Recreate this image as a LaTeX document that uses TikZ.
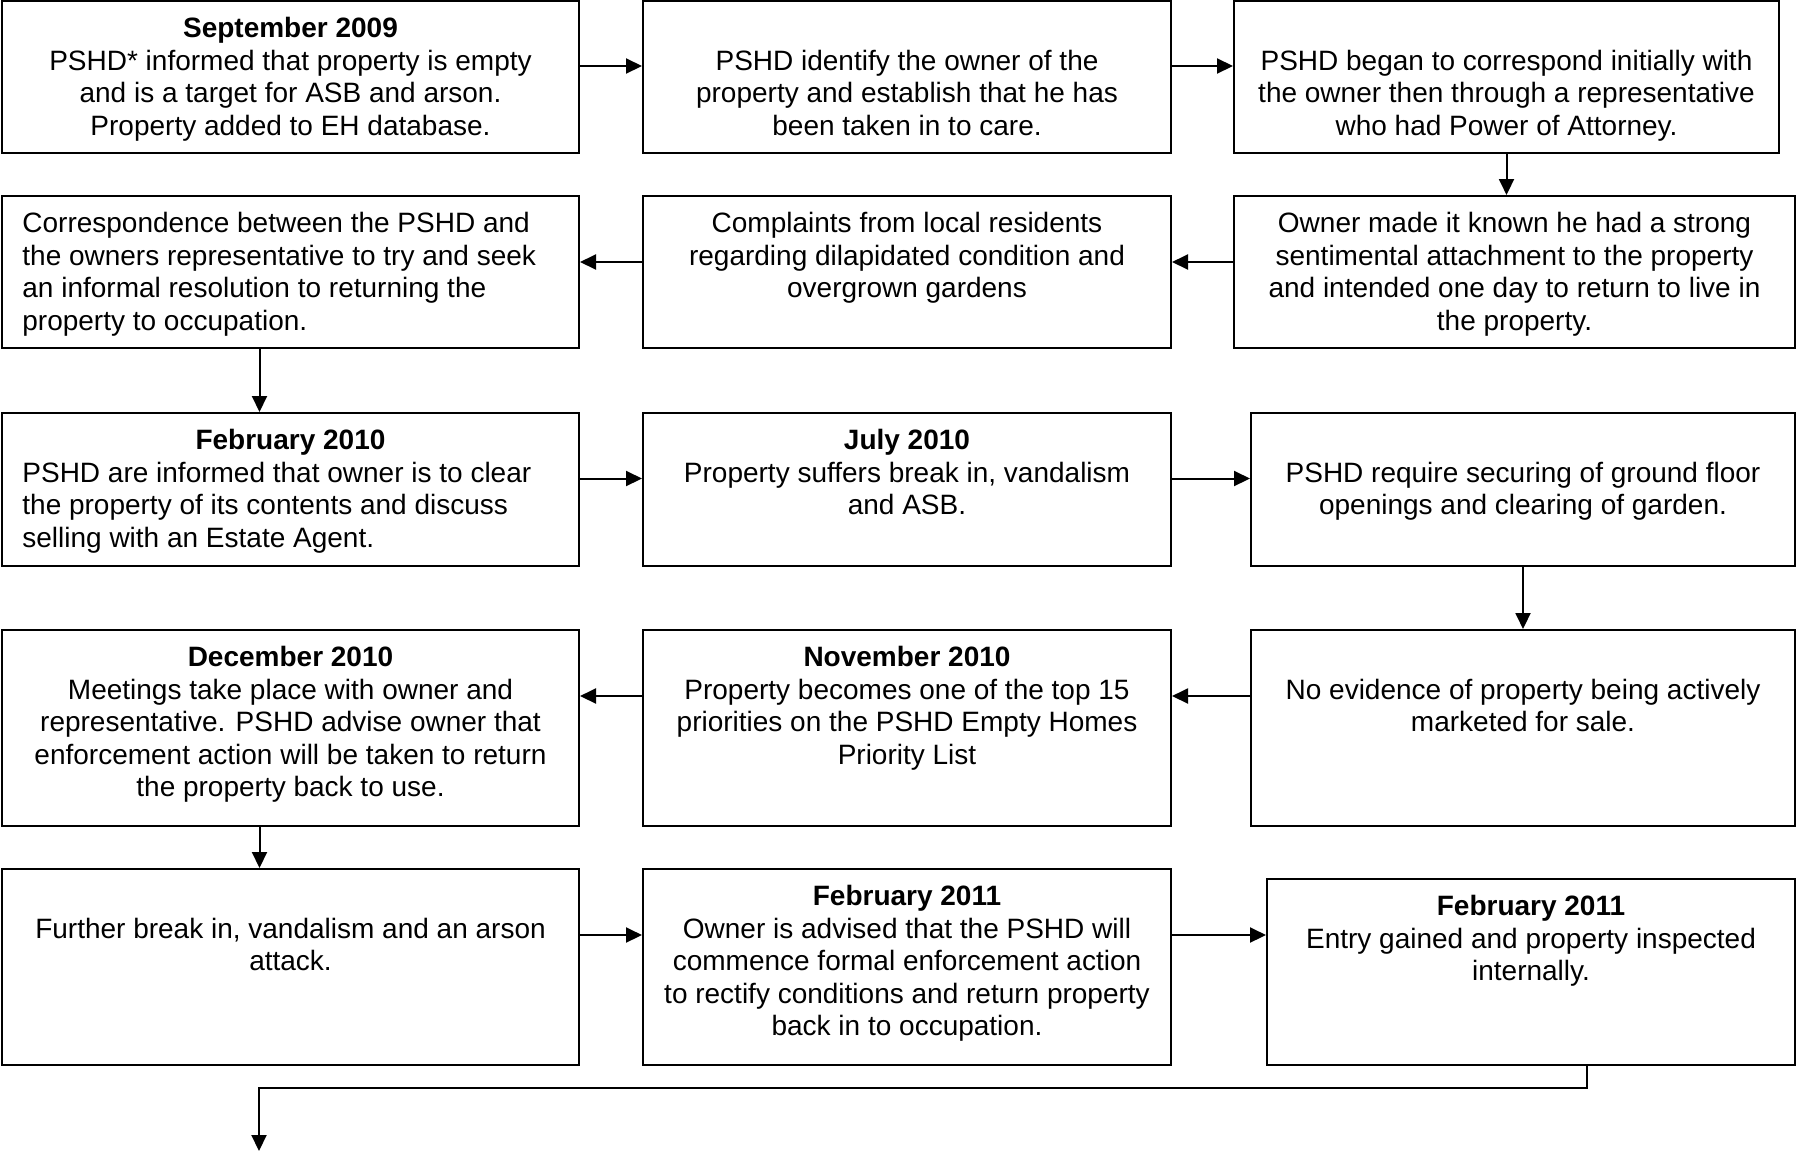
\documentclass[tikz,border=0pt]{standalone}
\usepackage{fontspec}
\setmainfont{Liberation Sans}
\usetikzlibrary{arrows.meta,calc,fit}
\newcommand{\mytopstrut}{\rule{0pt}{12pt}}
\begin{document}
\begin{tikzpicture}[x=0.5pt,y=-0.5pt,
  box/.style={draw, line width=1pt, inner sep=0pt},
  txt/.style={font=\fontsize{14}{16.2}\selectfont, inner sep=0pt, align=center, anchor=north},
  txtl/.style={txt, align=left, anchor=north west},
  arr/.style={line width=1pt, -{Triangle[length=8pt,width=7.5pt]}}]
\useasboundingbox (0,0) rectangle (1797,1152);
% boxes
\node[box, fit={(2,1) (579,153)}] (b1) {};
\node[box, fit={(643,1) (1171,153)}] (b2) {};
\node[box, fit={(1234,1) (1779,153)}] (b3) {};
\node[box, fit={(2,196) (579,348)}] (b4) {};
\node[box, fit={(643,196) (1171,348)}] (b5) {};
\node[box, fit={(1234,196) (1795,348)}] (b6) {};
\node[box, fit={(2,413) (579,566)}] (b7) {};
\node[box, fit={(643,413) (1171,566)}] (b8) {};
\node[box, fit={(1251,413) (1795,566)}] (b9) {};
\node[box, fit={(2,630) (579,826)}] (b10) {};
\node[box, fit={(643,630) (1171,826)}] (b11) {};
\node[box, fit={(1251,630) (1795,826)}] (b12) {};
\node[box, fit={(2,869) (579,1065)}] (b13) {};
\node[box, fit={(643,869) (1171,1065)}] (b14) {};
\node[box, fit={(1267,879) (1795,1065)}] (b15) {};
% texts
\node[txt] (t1) at ($(b1.north)+(0,13.5)$) {\mytopstrut\textbf{September 2009}\\PSHD* informed that property is empty\\and is a target for ASB and arson.\\Property added to EH database.};
\node[txt] (t2) at ($(b2.north)+(0,46)$) {\mytopstrut PSHD identify the owner of the\\property and establish that he has\\been taken in to care.};
\node[txt] (t3) at ($(b3.north)+(0,46)$) {\mytopstrut PSHD began to correspond initially with\\the owner then through a representative\\who had Power of Attorney.};
\node[txtl] (t4) at ($(b4.north west)+(21,13.5)$) {\mytopstrut Correspondence between the PSHD and\\the owners representative to try and seek\\an informal resolution to returning the\\property to occupation.};
\node[txt] (t5) at ($(b5.north)+(0,13.5)$) {\mytopstrut Complaints from local residents\\regarding dilapidated condition and\\overgrown gardens};
\node[txt] (t6) at ($(b6.north)+(0,13.5)$) {\mytopstrut Owner made it known he had a strong\\sentimental attachment to the property\\and intended one day to return to live in\\the property.};
\node[txt] (t7a) at ($(b7.north)+(0,13.5)$) {\mytopstrut\textbf{February 2010}};
\node[txtl] (t7) at ($(b7.north west)+(21,46)$) {\mytopstrut PSHD are informed that owner is to clear\\the property of its contents and discuss\\selling with an Estate Agent.};
\node[txt] (t8) at ($(b8.north)+(0,13.5)$) {\mytopstrut\textbf{July 2010}\\Property suffers break in, vandalism\\and ASB.};
\node[txt] (t9) at ($(b9.north)+(0,46)$) {\mytopstrut PSHD require securing of ground floor\\openings and clearing of garden.};
\node[txt] (t10) at ($(b10.north)+(0,13.5)$) {\mytopstrut\textbf{December 2010}\\Meetings take place with owner and\\representative. PSHD advise owner that\\enforcement action will be taken to return\\the property back to use.};
\node[txt] (t11) at ($(b11.north)+(0,13.5)$) {\mytopstrut\textbf{November 2010}\\Property becomes one of the top 15\\priorities on the PSHD Empty Homes\\Priority List};
\node[txt] (t12) at ($(b12.north)+(0,46)$) {\mytopstrut No evidence of property being actively\\marketed for sale.};
\node[txt] (t13) at ($(b13.north)+(0,46)$) {\mytopstrut Further break in, vandalism and an arson\\attack.};
\node[txt] (t14) at ($(b14.north)+(0,13.5)$) {\mytopstrut\textbf{February 2011}\\Owner is advised that the PSHD will\\commence formal enforcement action\\to rectify conditions and return property\\back in to occupation.};
\node[txt] (t15) at ($(b15.north)+(0,13.5)$) {\mytopstrut\textbf{February 2011}\\Entry gained and property inspected\\internally.};
% connectors
\draw[arr] ($(b1.east)+(0,-11)$) -- ($(b2.west)+(0,-11)$);
\draw[arr] ($(b2.east)+(0,-11)$) -- ($(b3.west)+(0,-11)$);
\draw[arr] (b3.south) -- (b3.south |- b6.north);
\draw[arr] ($(b6.west)+(0,-10)$) -- ($(b5.east)+(0,-10)$);
\draw[arr] ($(b5.west)+(0,-10)$) -- ($(b4.east)+(0,-10)$);
\draw[arr] ($(b4.south)+(-31,0)$) -- ($(b7.north)+(-31,0)$);
\draw[arr] ($(b7.east)+(0,-11)$) -- ($(b8.west)+(0,-11)$);
\draw[arr] ($(b8.east)+(0,-11)$) -- ($(b9.west)+(0,-11)$);
\draw[arr] (b9.south) -- (b12.north);
\draw[arr] ($(b12.west)+(0,-32)$) -- ($(b11.east)+(0,-32)$);
\draw[arr] ($(b11.west)+(0,-32)$) -- ($(b10.east)+(0,-32)$);
\draw[arr] ($(b10.south)+(-31,0)$) -- ($(b13.north)+(-31,0)$);
\draw[arr] ($(b13.east)+(0,-32)$) -- ($(b14.west)+(0,-32)$);
\draw[arr] ($(b14.east)+(0,-32)$) coordinate (p5) -- (p5 -| b15.west);
\coordinate (endpt) at (259,1151);
\draw[arr] ($(b15.south)+(56,0)$) -- ++(0,22) -| (endpt);
\end{tikzpicture}
\end{document}
